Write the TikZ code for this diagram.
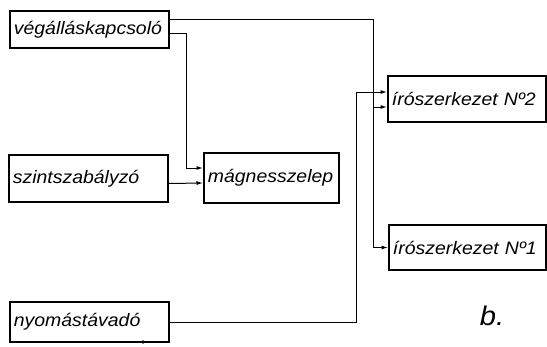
\documentclass[tikz,border=0pt]{standalone}
\usepackage{fontspec}
\usetikzlibrary{arrows.meta}
\newfontfamily\lett{Liberation Sans}[FakeStretch=1.08]
\begin{document}
\begin{tikzpicture}[x=1pt,y=-1pt,
  box/.style={draw, line width=1.8pt, inner xsep=4pt, inner ysep=0pt, anchor=west,
    align=left, font=\lett\itshape\fontsize{18}{21}\selectfont},
  arr/.style={line width=1pt, -{Latex[length=6.5pt,width=4pt]}},
  wire/.style={line width=1pt}]
\useasboundingbox (0,0) rectangle (547,346);
\node[box, text width=151pt, minimum height=37pt] (v) at (9,29.5) {végálláskapcsoló};
\node[box, text width=151pt, minimum height=47pt] (s) at (8,178.5) {szintszabályzó};
\node[box, text width=127pt, minimum height=50pt] (m) at (203,178) {mágnesszelep};
\node[box, text width=151pt, minimum height=40pt] (n) at (9,322) {nyomástávadó};
\node[box, text width=150pt, minimum height=46pt] (i2) at (387,99) {írószerkezet~Nº2};
\node[box, text width=149pt, minimum height=45pt] (i1) at (388,247.5) {írószerkezet~Nº1};
\node[font=\lett\itshape\fontsize{27}{30}\selectfont] (b) at (492,316) {b.};
\coordinate (b1) at (373,19);
\coordinate (b2) at (186,33);
\coordinate (b3) at (356,322);
\draw[arr] ([yshift=10.5pt]v.east) -- (b1) |- (i1.west);
\draw[arr] ([yshift=-8pt]i2.west -| b1) -- ([yshift=-8pt]i2.west);
\draw[arr] ([yshift=-3.5pt]v.east) -- (b2) |- ([yshift=10pt]m.west);
\draw[arr] ([yshift=-5pt]s.east) -- ([yshift=-5pt]m.west);
\draw[arr] (n.east) -- (b3) |- ([yshift=7pt]i2.west);
\fill (143,342) circle (1.8pt);
\end{tikzpicture}
\end{document}
